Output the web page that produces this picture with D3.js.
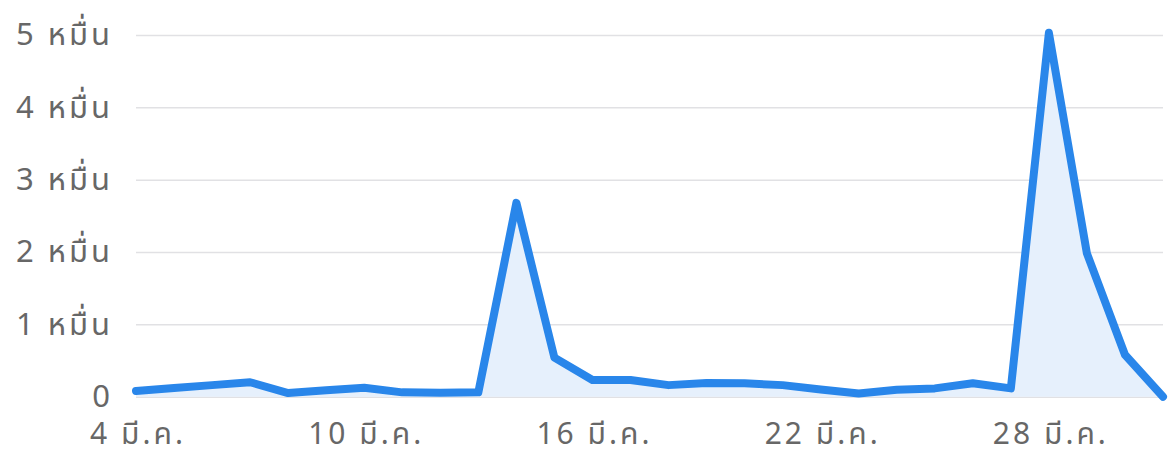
<!DOCTYPE html>
<html>
<head>
<meta charset="utf-8">
<script src="https://cdn.jsdelivr.net/npm/d3@7"></script>
<style>
  html, body { margin: 0; padding: 0; background: #ffffff; }
  svg { display: block; }
  text { font-family: "Noto Sans Thai", "Noto Sans Thai Looped", Roboto, "Noto Sans", "DejaVu Sans", sans-serif; }
</style>
</head>
<body>
<svg id="chart" width="1168" height="449"></svg>
<script>
// Dates (day of March) and daily values
const days = [4,5,6,7,8,9,10,11,12,13,14,15,16,17,18,19,20,21,22,23,24,25,26,27,28,29,30,31];
const values = [800,1200,1600,2000,500,900,1250,600,550,600,26800,5400,2300,2300,1600,1900,1850,1600,1000,450,950,1150,1850,1150,50300,19800,5800,0];
const yTickValues = [0,10000,20000,30000,40000,50000];
const yTickLabels = ["0","1 หมื่น","2 หมื่น","3 หมื่น","4 หมื่น","5 หมื่น"];
const xTickDays = [4,10,16,22,28];
const monthLabel = "มี.ค.";

const svg = d3.select("#chart");
const mLeft = 136, mRight = 1163, mTop = 35, mBottom = 396.7;

const x = d3.scaleLinear().domain([4, 31]).range([mLeft, mRight]);
const y = d3.scaleLinear().domain([0, 50000]).range([mBottom, mTop]);

const data = days.map((d, i) => ({ d, v: values[i] }));

// grid lines
const yAxis = d3.axisLeft(y)
  .tickValues(yTickValues)
  .tickSize(-(mRight - mLeft))
  .tickPadding(24)
  .tickFormat((d, i) => yTickLabels[i]);

const gy = svg.append("g").attr("transform", `translate(${mLeft},0)`).call(yAxis);
gy.select(".domain").remove();
gy.selectAll(".tick line").attr("stroke", "#e1e1e4").attr("stroke-width", 1.5);
gy.selectAll(".tick text")
  .attr("fill", "#676767")
  .attr("font-size", 31)
  .attr("letter-spacing", 3)
  .attr("dy", "0.32em")
  .attr("x", -23);

// area
const area = d3.area()
  .x(p => x(p.d))
  .y0(y(0))
  .y1(p => y(p.v));
svg.append("path").datum(data)
  .attr("d", area)
  .attr("fill", "#e6f0fc");

// line
const line = d3.line().x(p => x(p.d)).y(p => y(p.v));
svg.append("path").datum(data)
  .attr("d", line)
  .attr("fill", "none")
  .attr("stroke", "#2986ea")
  .attr("stroke-width", 8)
  .attr("stroke-linejoin", "round")
  .attr("stroke-linecap", "round");

// x axis
const xAxis = d3.axisBottom(x)
  .tickValues(xTickDays)
  .tickSize(0)
  .tickPadding(0)
  .tickFormat(d => `${d} ${monthLabel}`);
const gx = svg.append("g").attr("transform", `translate(0,${mBottom})`).call(xAxis);
gx.select(".domain").remove();
gx.selectAll(".tick text")
  .attr("fill", "#676767")
  .attr("font-size", 30)
  .attr("letter-spacing", 3)
  .attr("dx", 1.5)
  .attr("dy", null)
  .attr("y", 47);
</script>
</body>
</html>
